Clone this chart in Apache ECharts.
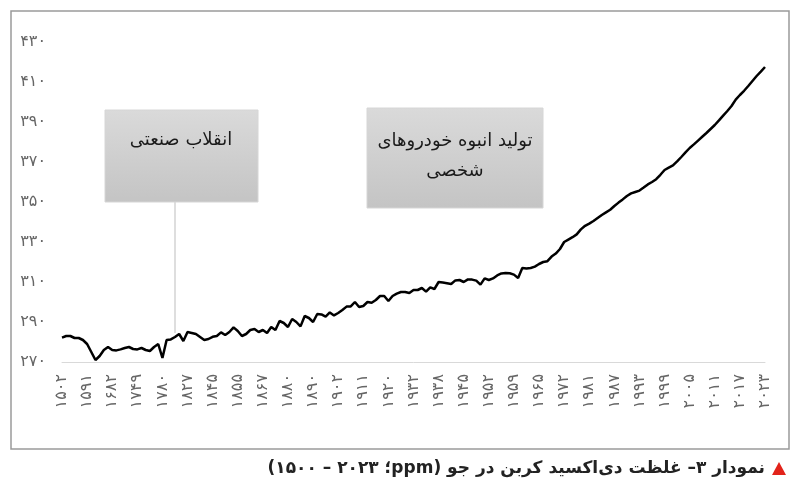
<!DOCTYPE html>
<html><head><meta charset="utf-8">
<script src="https://cdn.jsdelivr.net/npm/echarts@6/dist/echarts.min.js"></script>
<style>html,body{margin:0;padding:0;background:#fff}#c{width:800px;height:500px}</style>
</head><body><div id="c" dir="rtl"></div>
<script>
const years = [
1502,1517,1532,1547,1561,1576,
1591,1606,1621,1636,1652,1667,
1682,1693,1704,1716,1727,1738,
1749,1754,1759,1765,1770,1775,
1780,1788,1796,1804,1811,1819,
1827,1830,1833,1836,1839,1842,
1845,1847,1848,1850,1852,1853,
1855,1857,1859,1861,1863,1865,
1867,1869,1871,1874,1876,1878,
1880,1882,1883,1885,1887,1888,
1890,1892,1894,1896,1898,1900,
1902,1904,1905,1907,1908,1910,
1911,1913,1914,1916,1917,1919,
1920,1922,1924,1926,1928,1930,
1932,1933,1934,1935,1936,1937,
1938,1939,1940,1941,1943,1944,
1945,1946,1947,1948,1950,1951,
1952,1953,1954,1955,1956,1958,
1959,1960,1961,1962,1963,1964,
1965,1966,1967,1968,1969,1970,
1972,1973,1975,1976,1978,1979,
1981,1982,1983,1984,1985,1986,
1987,1988,1989,1990,1991,1992,
1993,1994,1995,1996,1997,1998,
1999,2000,2001,2002,2003,2004,
2005,2006,2007,2008,2009,2010,
2011,2012,2013,2014,2015,2016,
2017,2018,2019,2020,2021,2022,
2023];
const co2 = [
282.2,283,283,282,282,281,
279,275,271,273,276,277.5,
276,275.8,276.3,277,277.5,276.5,
276.3,277,276,275.5,277.5,279,
272,281,281.3,282.5,284,280.5,
285,284.5,284,282.5,281,281.5,
282.6,283,284.8,283.5,285,287.3,
285.5,283,284,286,286.5,285,
286,284.5,287.5,286,290.5,289.5,
287.5,291.5,290,287.8,293,292,
290,294,293.8,292.7,294.8,293.3,
294.5,296,297.7,297.8,300,297.5,
298,300,299.6,301,303,303,
300.5,303,304.2,305,305,304.5,
306,306,307,305.2,307.3,306.5,
310,309.7,309.4,309,310.8,311,
310,311.3,311.2,310.7,308.7,311.8,
311,311.8,313.3,314.3,314.5,314.4,
313.7,312,317,316.7,317,317.7,
319,320,320.4,322.7,324.2,326.5,
330,331.2,332.4,333.8,336.3,338.1,
339.2,340.5,342,343.5,344.8,346.1,
348,349.7,351.3,353,354.3,355,
355.7,357.2,358.8,360,361.4,363.6,
366,367.2,368.3,370.3,372.5,374.8,
377,378.8,380.7,382.6,384.5,386.5,
388.5,390.8,393.2,395.5,398,401.2,
403.5,405.6,408,410.5,413,415.2,
417.5];
const yTicks = {min: 270, max: 430, step: 20};
const note1 = 'انقلاب صنعتی';
const note2 = 'تولید انبوه خودروهای\nشخصی';
const caption = 'نمودار ۳– غلظت دی‌اکسید کربن در جو (ppm؛ ۲۰۲۳ – ۱۵۰۰)';

const fa = s => String(s).replace(/\d/g, d => '۰۱۲۳۴۵۶۷۸۹'[d]);
const FONT = 'DejaVu Sans';
const chart = echarts.init(document.getElementById('c'), null, {renderer: 'canvas'});
const boxFill = new echarts.graphic.LinearGradient(0, 0, 0, 1, [
  {offset: 0, color: '#dadada'}, {offset: 1, color: '#c4c4c4'}]);
chart.setOption({
  animation: false,
  backgroundColor: '#fff',
  grid: {left: 62, right: 35, top: 42, bottom: 138},
  xAxis: {
    type: 'category', data: years.map(String), boundaryGap: false,
    axisLine: {lineStyle: {color: '#d9d9d9', width: 1}},
    axisTick: {show: false},
    axisLabel: {interval: 5, rotate: 90, color: '#666', fontFamily: FONT, fontSize: 16,
      margin: 12, formatter: v => fa(v)}
  },
  yAxis: {
    type: 'value', min: yTicks.min, max: yTicks.max, interval: yTicks.step,
    axisLine: {show: false}, axisTick: {show: false}, splitLine: {show: false},
    axisLabel: {color: '#666', fontFamily: FONT, fontSize: 16, margin: 16, formatter: v => fa(v)}
  },
  series: [{
    type: 'line', data: co2, showSymbol: false,
    lineStyle: {color: '#000', width: 2.5}, z: 3
  }],
  graphic: [
    {type: 'rect', shape: {x: 11, y: 11, width: 778, height: 438},
      style: {fill: 'none', stroke: '#9a9a9a', lineWidth: 1.5}, z: 0},
    {type: 'line', shape: {x1: 175, y1: 202, x2: 175, y2: 333},
      style: {stroke: '#bdbdbd', lineWidth: 1}, z: 1},
    {type: 'rect', shape: {x: 105, y: 110, width: 153, height: 92},
      style: {fill: boxFill, stroke: '#d6d6d6', lineWidth: 1}, z: 2},
    {type: 'text', x: 181, y: 140, z: 4,
      style: {text: note1, fill: '#1a1a1a', font: '18px "DejaVu Sans"', align: 'center', verticalAlign: 'middle'}},
    {type: 'rect', shape: {x: 367, y: 108, width: 176, height: 100},
      style: {fill: boxFill, stroke: '#d6d6d6', lineWidth: 1}, z: 2},
    {type: 'text', x: 455, y: 156, z: 4,
      style: {text: note2, fill: '#1a1a1a', font: '18px "DejaVu Sans"', align: 'center', verticalAlign: 'middle', lineHeight: 30}},
    {type: 'polygon', shape: {points: [[772, 475], [786, 475], [779, 462]]},
      style: {fill: '#e2231a'}, z: 4},
    {type: 'text', x: 765, y: 469, z: 4,
      style: {text: caption, fill: '#222', font: 'bold 17px "DejaVu Sans"', align: 'right', verticalAlign: 'middle'}}
  ]
});
</script></body></html>
